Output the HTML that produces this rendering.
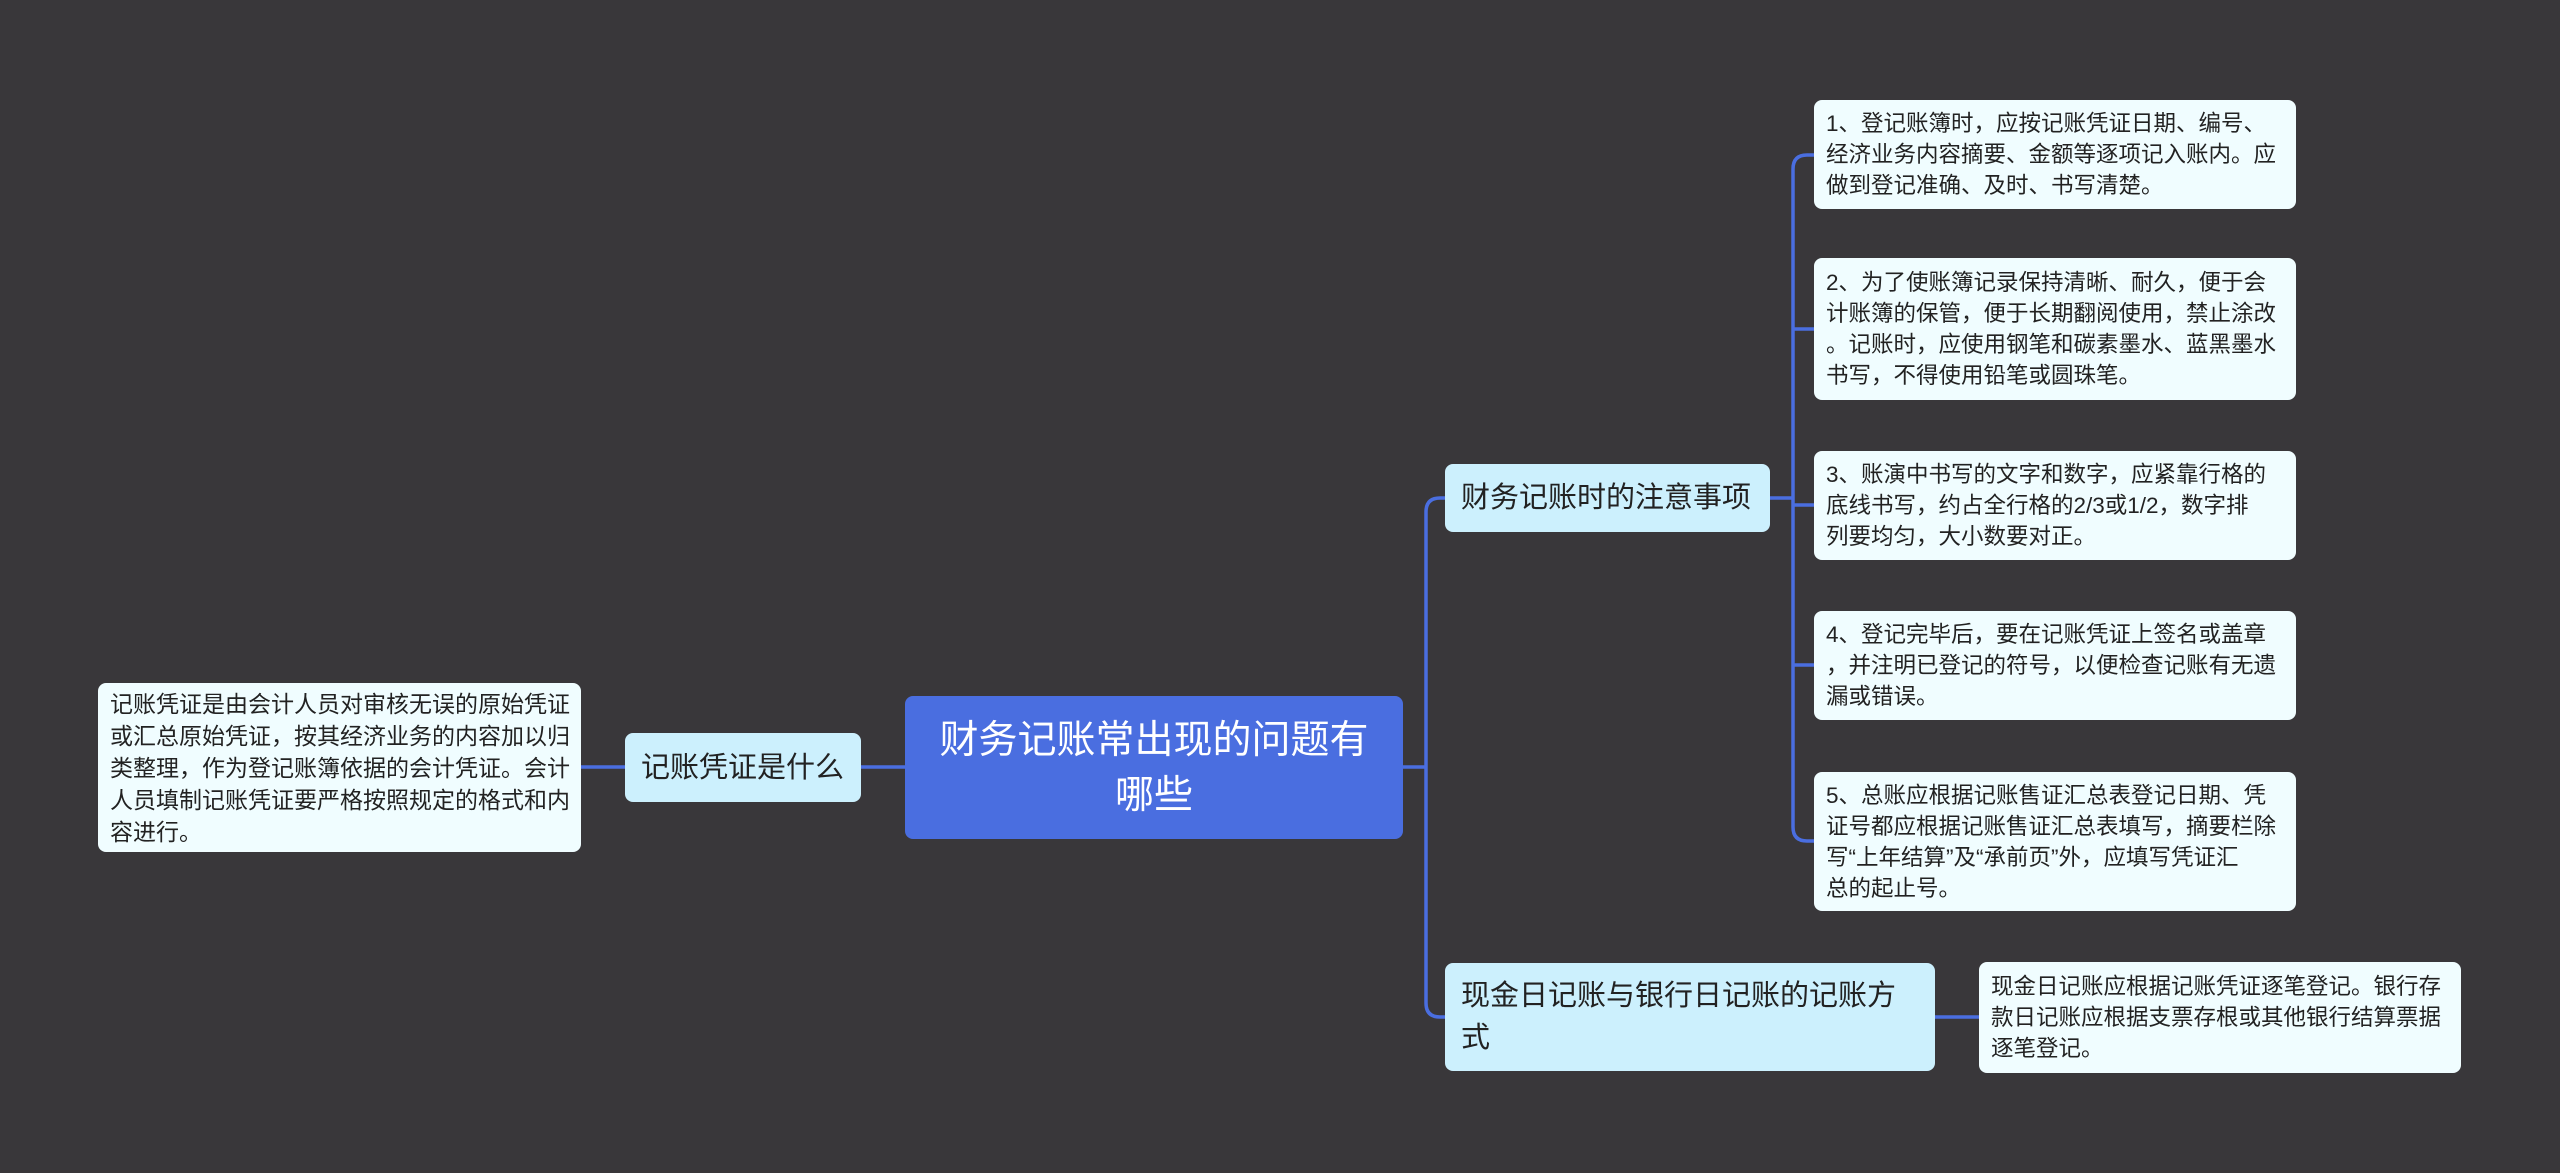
<!DOCTYPE html>
<html><head><meta charset="utf-8"><style>
body{margin:0;width:2560px;height:1173px;background:#39373a;overflow:hidden;position:relative;font-family:"Liberation Sans","Noto Sans CJK SC",sans-serif;}
.n{position:absolute;box-sizing:border-box;border-radius:8px;display:flex;flex-direction:column;justify-content:center;color:#222;white-space:nowrap;}
.leaf{background:#f0fdff;font-size:22.5px;line-height:31px;padding:0 18px;}
.sub{background:#ccf0fd;font-size:29px;line-height:42px;padding:0 16px;}
svg{position:absolute;left:0;top:0;}
</style></head><body>
<svg width="2560" height="1173"><g fill="none" stroke="#4a6ee0" stroke-width="3.5">
<path d="M581 767 H905"/>
<path d="M1403 767 H1426"/>
<path d="M1445 498 H1440 Q1426 498 1426 512 V1003 Q1426 1017 1440 1017 H1445"/>
<path d="M1770 498 H1793"/>
<path d="M1814 155 H1807 Q1793 155 1793 169 V827 Q1793 841 1807 841 H1814"/>
<path d="M1793 329 H1814 M1793 505 H1814 M1793 665 H1814"/>
<path d="M1935 1017 H1979"/>
</g></svg>
<div class="n" style="left:905px;top:696px;width:498px;height:143px;background:#4a6ee0;color:#fff;font-size:39px;line-height:55px;align-items:center;text-align:center;">财务记账常出现的问题有<br>哪些</div>
<div class="n sub" style="left:625px;top:733px;width:236px;height:69px;">记账凭证是什么</div>
<div class="n leaf" style="left:98px;top:683px;width:483px;height:169px;font-size:23px;line-height:32px;padding:0 12px;">记账凭证是由会计人员对审核无误的原始凭证<br>或汇总原始凭证，按其经济业务的内容加以归<br>类整理，作为登记账簿依据的会计凭证。会计<br>人员填制记账凭证要严格按照规定的格式和内<br>容进行。</div>
<div class="n sub" style="left:1445px;top:464px;width:325px;height:68px;">财务记账时的注意事项</div>
<div class="n sub" style="left:1445px;top:963px;width:490px;height:108px;">现金日记账与银行日记账的记账方<br>式</div>
<div class="n leaf" style="left:1814px;top:100px;width:482px;height:109px;padding:0 12px;">1、登记账簿时，应按记账凭证日期、编号、<br>经济业务内容摘要、金额等逐项记入账内。应<br>做到登记准确、及时、书写清楚。</div>
<div class="n leaf" style="left:1814px;top:258px;width:482px;height:142px;padding:0 12px;">2、为了使账簿记录保持清晰、耐久，便于会<br>计账簿的保管，便于长期翻阅使用，禁止涂改<br>。记账时，应使用钢笔和碳素墨水、蓝黑墨水<br>书写，不得使用铅笔或圆珠笔。</div>
<div class="n leaf" style="left:1814px;top:451px;width:482px;height:109px;padding:0 12px;">3、账演中书写的文字和数字，应紧靠行格的<br>底线书写，约占全行格的2/3或1/2，数字排<br>列要均匀，大小数要对正。</div>
<div class="n leaf" style="left:1814px;top:611px;width:482px;height:109px;padding:0 12px;">4、登记完毕后，要在记账凭证上签名或盖章<br>，并注明已登记的符号，以便检查记账有无遗<br>漏或错误。</div>
<div class="n leaf" style="left:1814px;top:772px;width:482px;height:139px;padding:0 12px;">5、总账应根据记账售证汇总表登记日期、凭<br>证号都应根据记账售证汇总表填写，摘要栏除<br>写“上年结算”及“承前页”外，应填写凭证汇<br>总的起止号。</div>
<div class="n leaf" style="left:1979px;top:962px;width:482px;height:111px;padding:0 12px;">现金日记账应根据记账凭证逐笔登记。银行存<br>款日记账应根据支票存根或其他银行结算票据<br>逐笔登记。</div>
</body></html>
